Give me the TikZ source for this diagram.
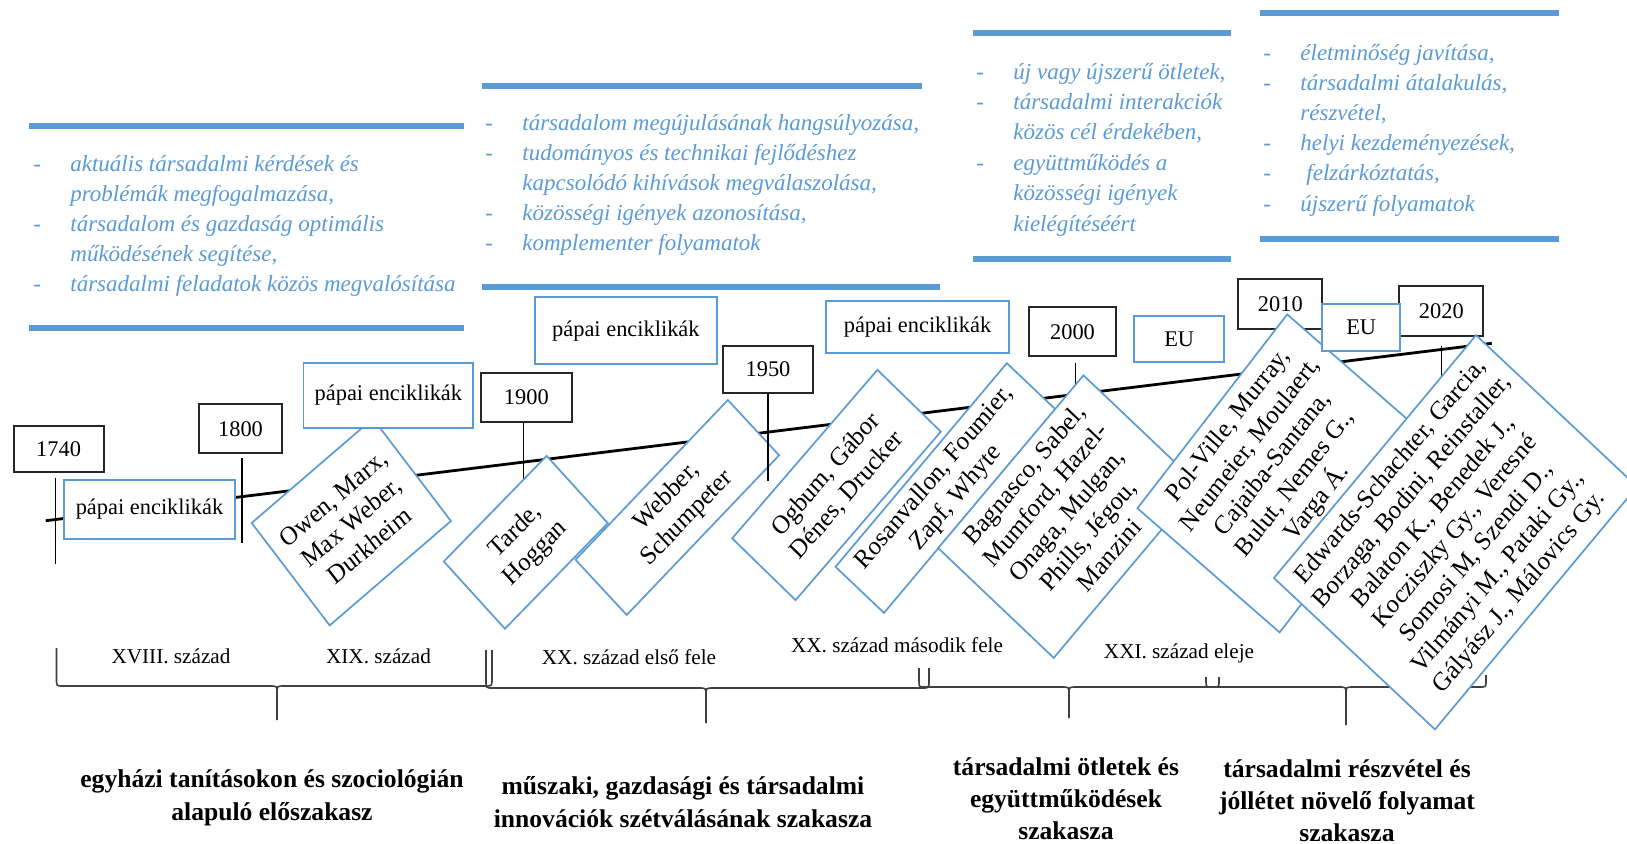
\documentclass[tikz,border=0pt]{standalone}
\usepackage{fontspec}
\setmainfont{Liberation Serif}
\definecolor{bl}{HTML}{5B9BD5}
\newcommand\dashitem[1]{\hbox{\makebox[18.5pt][l]{-}#1}}
\newcommand\contitem[1]{\hbox{\hspace*{18.5pt}#1}}
\newcommand\ctrline[2]{\hbox to #1{\hfil#2\hfil}}
\begin{document}
\begin{tikzpicture}[x=0.5pt,y=-0.5pt,
  yearbox/.style={draw=black!85, line width=0.9pt, fill=white, inner sep=0pt, font=\fontsize{11.2pt}{13pt}\selectfont},
  bluebox/.style={draw=bl, line width=0.9pt, fill=white, inner sep=0pt, font=\fontsize{11.2pt}{13pt}\selectfont},
  diambox/.style={draw=bl, line width=0.85pt, fill=white, inner sep=0pt, transform shape},
  diamtext/.style={inner sep=0pt, align=center, transform shape, font=\fontsize{12.3pt}{14.3pt}\selectfont},
  tick/.style={draw=black, line width=0.7pt},
  brace/.style={draw=black!75, line width=0.8pt},
  thickbar/.style={draw=bl, line width=3pt},
  bluetext/.style={inner sep=0pt, anchor=base west, text=bl, font=\fontsize{11.5pt}{15pt}\selectfont\itshape},
  century/.style={inner sep=0pt, font=\fontsize{10.6pt}{12pt}\selectfont},
  phase/.style={inner sep=0pt, anchor=base, font=\fontsize{12.8pt}{16.5pt}\selectfont\bfseries}
]
\useasboundingbox (0,0) rectangle (1627,843);
\fill[white] (0,0) rectangle (1627,843);

% timeline
\coordinate (tlA) at (45.7,520.7);
\coordinate (tlB) at (1491.7,343.3);
\draw[line width=1.4pt] (tlA) -- (tlB);

% year boxes
\node[yearbox, minimum width=45pt, minimum height=22.85pt] (y1740) at (58.6,448.9) {1740};
\node[yearbox, minimum width=41.5pt, minimum height=24.65pt] (y1800) at (240.5,428.7) {1800};
\node[yearbox, minimum width=45.35pt, minimum height=24.5pt] (y1900) at (526.3,397.2) {1900};
\node[yearbox, minimum width=45.3pt, minimum height=23.35pt] (y1950) at (768,369.3) {1950};
\node[yearbox, minimum width=43.2pt, minimum height=24.35pt] (y2000) at (1072.5,331.7) {2000};
\node[yearbox, minimum width=42pt, minimum height=25pt] (y2010) at (1280.3,304.3) {2010};
\node[yearbox, minimum width=42pt, minimum height=25pt] (y2020) at (1441.3,310.7) {2020};

% ticks
\draw[tick] ([xshift=-1.6pt,yshift=-2.5pt]y1740.south) -- ++(0,86.6);
\draw[tick] ([xshift=0.75pt,yshift=-1.7pt]y1800.south) -- ++(0,85);
\draw[tick] ([xshift=-1.5pt]y1900.south) -- ++(0,83.3);
\draw[tick] ([xshift=1.6pt,yshift=-2.85pt]y2000.south) -- ++(0,75.3);
\draw[tick] ([yshift=-4.65pt]y2020.south) -- ++(0,30.7);

% braces
\draw[brace] (56.5,648) -- (56.5,679) .. controls (56.5,686) .. (63.5,686) -- (270,686) .. controls (277,686) .. (277,693) -- (277,720);
\draw[brace] (277,693) .. controls (277,686) .. (284,686) -- (485,686) .. controls (492,686) .. (492,679) -- (492,650);
\draw[brace] (486,650) -- (486,681) .. controls (486,688) .. (493,688) -- (699,688) .. controls (706,688) .. (706,695) -- (706,723);
\draw[brace] (706,695) .. controls (706,688) .. (713,688) -- (922,688) .. controls (929,688) .. (929,681) -- (929,668);
\draw[brace] (919,668) -- (919,681) .. controls (919,687) .. (925,687) -- (1062,687) .. controls (1069,687) .. (1069,694) -- (1069,718);
\draw[brace] (1069,694) .. controls (1069,687) .. (1076,687) -- (1213,687) .. controls (1219,687) .. (1219,681) -- (1219,677);
\draw[brace] (1206,677) -- (1206,681) .. controls (1206,687) .. (1212,687) -- (1339,687) .. controls (1346,687) .. (1346,694) -- (1346,725);
\draw[brace] (1346,694) .. controls (1346,687) .. (1353,687) -- (1480,687) .. controls (1486,687) .. (1486,681) -- (1486,675);

% century labels
\node[century] (c18) at (171,656) {XVIII. század};
\node[century] (c19) at (378.5,656) {XIX. század};
\node[century] (c20a) at (629,656.7) {XX. század első fele};
\node[century] (c20b) at (897,645) {XX. század második fele};
\node[century] (c21) at (1179,653.3) {XXI. század eleje};

% diamonds (rotated text boxes)
\begin{scope}[shift={(351.3,522)}, yscale=1.063, rotate=39]
\node[diambox, minimum width=78pt, minimum height=62pt] (owen) at (0,0) {};
\node[diamtext] (owenT) at (0,0) {Owen, Marx,\\Max Weber,\\Durkheim};
\end{scope}
\begin{scope}[shift={(525.8,542.3)}, yscale=1.063, rotate=44]
\node[diambox, minimum width=71.5pt, minimum height=44pt] (tarde) at (0,0) {};
\node[diamtext] (tardeT) at (0,0) {Tarde,\\Hoggan};
\end{scope}
\begin{scope}[shift={(677.3,507.5)}, yscale=1.063, rotate=44.6]
\node[diambox, minimum width=107pt, minimum height=36.5pt] (webber) at (0,0) {};
\node[diamtext] (webberT) at (0,0) {Webber,\\Schumpeter};
\end{scope}
\begin{scope}[shift={(836.5,485)}, yscale=1.063, rotate=47.5]
\node[diambox, minimum width=107.5pt, minimum height=43pt] (ogburn) at (0,0) {};
\node[diamtext] (ogburnT) at (0,0) {Ogbum, Gábor\\Dénes, Drucker};
\end{scope}
\begin{scope}[shift={(945.4,488)}, yscale=1.063, rotate=48.2]
\node[diambox, minimum width=128.5pt, minimum height=32.5pt] (rosan) at (0,0) {};
\node[diamtext] (rosanT) at (0,0) {Rosanvallon, Foumier,\\Zapf, Whyte};
\end{scope}
\begin{scope}[shift={(1068.6,516.6)}, yscale=1.063, rotate=48.2]
\node[diambox, minimum width=109pt, minimum height=77.5pt] (bagnasco) at (0,0) {};
\node[diamtext] (bagnascoT) at (0,-3) {Bagnasco, Sabel,\\Mumford, Hazel-\\Onaga, Mulgan,\\Phills, Jégou,\\Manzini};
\end{scope}
\begin{scope}[shift={(1283.4,473.4)}, yscale=1.063, rotate=50.6]
\node[diambox, minimum width=118pt, minimum height=92pt] (polville) at (0,0) {};
\node[diamtext] (polvilleT) at (0,-13) {Pol-Ville, Murray,\\Neumeier, Moulaert,\\Cajaiba-Santana,\\Bulut, Nemes G.,\\Varga Á.};
\end{scope}
\begin{scope}[shift={(1455.5,532.3)}, yscale=1.063, rotate=48.5]
\node[diambox, minimum width=152.5pt, minimum height=107.5pt] (edwards) at (0,0) {};
\node[diamtext] (edwardsT) at (0,0) {Edwards-Schachter, Garcia,\\Borzaga, Bodini, Reinstaller,\\Balaton K., Benedek J.,\\Kocziszky Gy., Veresné\\Somosi M, Szendi D.,\\Vilmányi M., Pataki Gy.,\\Gályász J., Málovics Gy.};
\end{scope}

\draw[tick] (y1950.south) -- ++(0,87.3);

% blue boxes
\node[bluebox, minimum width=85.15pt, minimum height=29.5pt] (p1) at (149.5,509.5) {pápai enciklikák};
\node[bluebox, minimum width=84.9pt, minimum height=32.8pt] (p2) at (388.4,395.5) {pápai enciklikák};
\node[bluebox, minimum width=90.85pt, minimum height=33.35pt] (p3) at (625.9,330.7) {pápai enciklikák};
\node[bluebox, minimum width=91.8pt, minimum height=25.85pt] (p4) at (917.5,326.9) {pápai enciklikák};
\node[bluebox, minimum width=45.15pt, minimum height=23.3pt] (eu1) at (1179.2,339) {EU};
\node[bluebox, minimum width=38.85pt, minimum height=23.5pt] (eu2) at (1361.2,327.5) {EU};

% top text blocks
\draw[thickbar] (29.3,125.7) -- (464.3,125.7);
\draw[thickbar] (29.3,328.3) -- (464.3,328.3);
\node[bluetext] (ta) at (33,171) {\vtop{\baselineskip=15pt
\dashitem{aktuális társadalmi kérdések és}
\contitem{problémák megfogalmazása,}
\dashitem{társadalom és gazdaság optimális}
\contitem{működésének segítése,}
\dashitem{társadalmi feladatok közös megvalósítása}}};

\draw[thickbar] (481.7,85.7) -- (921.7,85.7);
\draw[thickbar] (481.7,286.7) -- (940,286.7);
\node[bluetext] (tb) at (485,130) {\vtop{\baselineskip=15pt
\dashitem{társadalom megújulásának hangsúlyozása,}
\dashitem{tudományos és technikai fejlődéshez}
\contitem{kapcsolódó kihívások megválaszolása,}
\dashitem{közösségi igények azonosítása,}
\dashitem{komplementer folyamatok}}};

\draw[thickbar] (972.8,33.3) -- (1231,33.3);
\draw[thickbar] (972.8,259.3) -- (1231,259.3);
\node[bluetext] (tc) at (976,79) {\vtop{\baselineskip=15.2pt
\dashitem{új vagy újszerű ötletek,}
\dashitem{társadalmi interakciók}
\contitem{közös cél érdekében,}
\dashitem{együttműködés a}
\contitem{közösségi igények}
\contitem{kielégítéséért}}};

\draw[thickbar] (1260,13.3) -- (1559,13.3);
\draw[thickbar] (1260,239.3) -- (1559,239.3);
\node[bluetext] (td) at (1263,60) {\vtop{\baselineskip=15.1pt
\dashitem{életminőség javítása,}
\dashitem{társadalmi átalakulás,}
\contitem{részvétel,}
\dashitem{helyi kezdeményezések,}
\dashitem{\hspace*{3pt}felzárkóztatás,}
\dashitem{újszerű folyamatok}}};

% phase labels
\node[phase] (ph1) at (272,787) {\vtop{\baselineskip=16.5pt\ctrline{230pt}{egyházi tanításokon és szociológián}\ctrline{230pt}{alapuló előszakasz}}};
\node[phase] (ph2) at (683,794) {\vtop{\baselineskip=16.5pt\ctrline{230pt}{műszaki, gazdasági és társadalmi}\ctrline{230pt}{innovációk szétválásának szakasza}}};
\node[phase] (ph3) at (1066,775) {\vtop{\baselineskip=16pt\ctrline{150pt}{társadalmi ötletek és}\ctrline{150pt}{együttműködések}\ctrline{150pt}{szakasza}}};
\node[phase] (ph4) at (1347,777) {\vtop{\baselineskip=16pt\ctrline{150pt}{társadalmi részvétel és}\ctrline{150pt}{jóllétet növelő folyamat}\ctrline{150pt}{szakasza}}};
\end{tikzpicture}
\end{document}
